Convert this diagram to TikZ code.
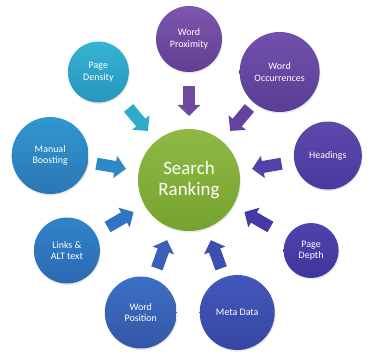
\documentclass[tikz,border=0pt]{standalone}
\usepackage{fontspec}
\setmainfont{Carlito}
\usetikzlibrary{calc,shadows,arrows.meta}

\definecolor{rankTop}{HTML}{8FB944}
\definecolor{rankBot}{HTML}{76A22F}
\definecolor{proxTop}{HTML}{7D56AD}
\definecolor{proxBot}{HTML}{623F93}
\definecolor{occurTop}{HTML}{7251AD}
\definecolor{occurBot}{HTML}{593D94}
\definecolor{headsTop}{HTML}{5E48AC}
\definecolor{headsBot}{HTML}{4A3A9E}
\definecolor{depthTop}{HTML}{4E43AD}
\definecolor{depthBot}{HTML}{3E369C}
\definecolor{metaTop}{HTML}{4258BA}
\definecolor{metaBot}{HTML}{3746A2}
\definecolor{wposTop}{HTML}{3C70C4}
\definecolor{wposBot}{HTML}{3457A7}
\definecolor{linksTop}{HTML}{3084CA}
\definecolor{linksBot}{HTML}{2C68B1}
\definecolor{manualTop}{HTML}{3196CF}
\definecolor{manualBot}{HTML}{2B77B5}
\definecolor{densityTop}{HTML}{35B4D3}
\definecolor{densityBot}{HTML}{2895BC}

\definecolor{proxArr}{HTML}{6E49A0}
\definecolor{occurArr}{HTML}{6443A0}
\definecolor{headsArr}{HTML}{5542A8}
\definecolor{depthArr}{HTML}{453AA4}
\definecolor{metaArr}{HTML}{3C4EB2}
\definecolor{wposArr}{HTML}{3A60B9}
\definecolor{linksArr}{HTML}{2F74C0}
\definecolor{manualArr}{HTML}{2E89C6}
\definecolor{densityArr}{HTML}{2EABCB}

\begin{document}
\begin{tikzpicture}[x=1bp, y=1bp,
  ring/.style={circle, inner sep=0pt, align=center, text=white,
    font=\fontsize{10}{11.5}\selectfont,
    drop shadow={opacity=0.18, shadow xshift=0.8bp, shadow yshift=-1.5bp}},
  fatarrow/.style={line width=12bp, -{Triangle[length=11bp, width=22bp]}}]
\useasboundingbox (0,0) rectangle (375,361);

\node[ring, minimum size=102bp, top color=rankTop, bottom color=rankBot,
  font=\fontsize{19}{21.5}\selectfont] (rank) at (189,181) {Search\\Ranking};

\node[ring, minimum size=66bp, top color=proxTop, bottom color=proxBot] (prox) at ($(rank)+(90:141)$) {Word\\Proximity};
\node[ring, minimum size=80bp, top color=occurTop, bottom color=occurBot] (occur) at ($(rank)+(50:141)$) {Word\\Occurrences};
\node[ring, minimum size=68bp, top color=headsTop, bottom color=headsBot] (heads) at ($(rank)+(10:141)$) {Headings};
\node[ring, minimum size=55bp, top color=depthTop, bottom color=depthBot] (depth) at ($(rank)+(-30:141)$) {Page\\Depth};
\node[ring, minimum size=75bp, top color=metaTop, bottom color=metaBot] (meta) at ($(rank)+(-70:141)$) {Meta Data};
\node[ring, minimum size=72bp, top color=wposTop, bottom color=wposBot] (wpos) at ($(rank)+(250:141)$) {Word\\Position};
\node[ring, minimum size=66bp, top color=linksTop, bottom color=linksBot] (links) at ($(rank)+(210:141)$) {Links \&\\ALT text};
\node[ring, minimum size=77bp, top color=manualTop, bottom color=manualBot] (manual) at ($(rank)+(170:141)$) {Manual\\Boosting};
\node[ring, minimum size=61bp, top color=densityTop, bottom color=densityBot] (density) at ($(rank)+(130:141)$) {Page\\Density};

\draw[fatarrow, proxArr] ($(rank)!94bp!(prox)$) -- ($(rank)!64bp!(prox)$);
\draw[fatarrow, occurArr] ($(rank)!94bp!(occur)$) -- ($(rank)!64bp!(occur)$);
\draw[fatarrow, headsArr] ($(rank)!94bp!(heads)$) -- ($(rank)!64bp!(heads)$);
\draw[fatarrow, depthArr] ($(rank)!94bp!(depth)$) -- ($(rank)!64bp!(depth)$);
\draw[fatarrow, metaArr] ($(rank)!94bp!(meta)$) -- ($(rank)!64bp!(meta)$);
\draw[fatarrow, wposArr] ($(rank)!94bp!(wpos)$) -- ($(rank)!64bp!(wpos)$);
\draw[fatarrow, linksArr] ($(rank)!94bp!(links)$) -- ($(rank)!64bp!(links)$);
\draw[fatarrow, manualArr] ($(rank)!94bp!(manual)$) -- ($(rank)!64bp!(manual)$);
\draw[fatarrow, densityArr] ($(rank)!94bp!(density)$) -- ($(rank)!64bp!(density)$);
\end{tikzpicture}
\end{document}
